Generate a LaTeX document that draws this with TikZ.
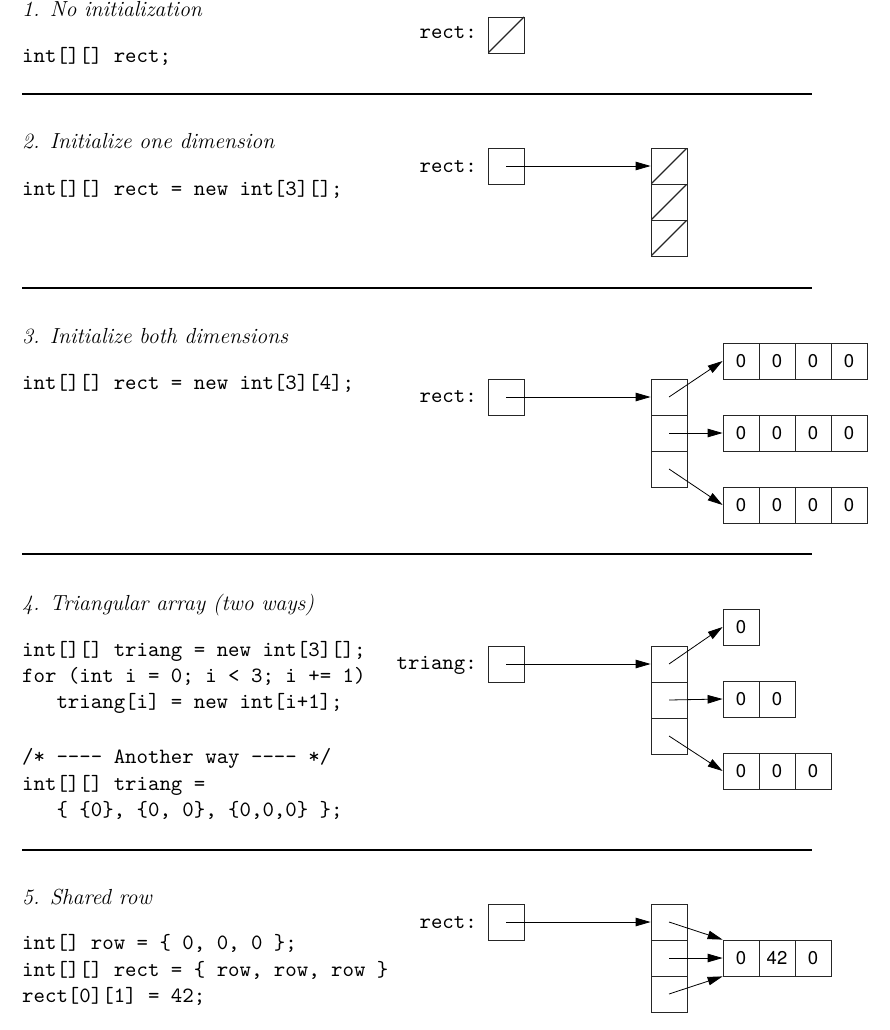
\documentclass[tikz,border=0pt]{standalone}
\usepackage{fontspec}
\setmonofont{lmmono10-regular.otf}
\newfontfamily\numfont{TeX Gyre Heros}
\usetikzlibrary{arrows.meta}
\begin{document}
\begin{tikzpicture}[x=1pt,y=-1pt,
  every node/.style={inner sep=0pt},
  code/.style={anchor=base west, font=\fontsize{21.8}{26}\selectfont\ttfamily},
  head/.style={anchor=base west, font=\fontsize{21.8}{26}\selectfont\itshape},
  lbl/.style={anchor=base east, font=\fontsize{21.8}{26}\selectfont\ttfamily},
  cell/.style={draw=black!85, line width=0.8pt, minimum size=36pt, font=\fontsize{18.5}{20}\selectfont\numfont},
  nullcell/.style={cell, path picture={\draw[black!85, line width=1.3pt] (path picture bounding box.south west) -- (path picture bounding box.north east);}},
  ptr/.style={-{Triangle[length=15pt,width=8.5pt]}, line width=0.8pt},
  rule/.style={line width=2pt}
]
\useasboundingbox (0,0) rectangle (890,1030);

% ---------- 1 ----------
\node[head] (h1) at (22,17) {1. No initialization};
\node[code] (c1) at (22,63) {int[][] rect;};
\node[lbl] (l1) at (477,39) {rect:};
\node[nullcell] (b1) at (506,35) {};
\draw[rule] (22,94) -- (812,94);

% ---------- 2 ----------
\node[head] (h2) at (22,148) {2. Initialize one dimension};
\node[code] (c2) at (22,195) {int[][] rect = new int[3][];};
\node[lbl] (l2) at (477,172) {rect:};
\node[cell] (b2) at (506,166) {};
\node[nullcell] (a2a) at (669,166) {};
\node[nullcell] (a2b) at (669,202) {};
\node[nullcell] (a2c) at (669,238) {};
\draw[ptr] (b2.center) -- (a2a.west);
\draw[rule] (22,288) -- (812,288);

% ---------- 3 ----------
\node[head] (h3) at (22,343) {3. Initialize both dimensions};
\node[code] (c3) at (22,389) {int[][] rect = new int[3][4];};
\node[lbl] (l3) at (477,402) {rect:};
\node[cell] (b3) at (506,397) {};
\node[cell] (a3a) at (669,397) {};
\node[cell] (a3b) at (669,433) {};
\node[cell] (a3c) at (669,469) {};
\foreach \r/\y in {a/361,b/433,c/505}{
  \node[cell] (r3\r1) at (741,\y) {0};
  \node[cell] (r3\r2) at (777,\y) {0};
  \node[cell] (r3\r3) at (813,\y) {0};
  \node[cell] (r3\r4) at (849,\y) {0};
}
\draw[ptr] (b3.center) -- (a3a.west);
\draw[ptr] (a3a.center) -- (r3a1.west);
\draw[ptr] (a3b.center) -- (r3b1.west);
\draw[ptr] (a3c.center) -- (r3c1.west);
\draw[rule] (22,554) -- (812,554);

% ---------- 4 ----------
\node[head] (h4) at (22,610) {4. Triangular array (two ways)};
\node[code] (c4a) at (22,656) {int[][] triang = new int[3][];};
\node[code] (c4b) at (22,682) {for (int i = 0; i < 3; i += 1)};
\node[code] (c4c) at (22,708) {\ \ \ triang[i] = new int[i+1];};
\node[code] (c4d) at (22,763) {/* ---- Another way ---- */};
\node[code] (c4e) at (22,790) {int[][] triang =};
\node[code] (c4f) at (22,816) {\ \ \ \{ \{0\}, \{0, 0\}, \{0,0,0\} \};};
\node[lbl] (l4) at (477,669) {triang:};
\node[cell] (b4) at (506,664) {};
\node[cell] (a4a) at (669,664) {};
\node[cell] (a4b) at (669,700) {};
\node[cell] (a4c) at (669,736) {};
\node[cell] (r4a1) at (741,627) {0};
\node[cell] (r4b1) at (741,699) {0};
\node[cell] (r4b2) at (777,699) {0};
\node[cell] (r4c1) at (741,771) {0};
\node[cell] (r4c2) at (777,771) {0};
\node[cell] (r4c3) at (813,771) {0};
\draw[ptr] (b4.center) -- (a4a.west);
\draw[ptr] (a4a.center) -- (r4a1.west);
\draw[ptr] (a4b.center) -- (r4b1.west);
\draw[ptr] (a4c.center) -- (r4c1.west);
\draw[rule] (22,850) -- (812,850);

% ---------- 5 ----------
\node[head] (h5) at (22,904) {5. Shared row};
\node[code] (c5a) at (22,949) {int[] row = \{ 0, 0, 0 \};};
\node[code] (c5b) at (22,976) {int[][] rect = \{ row, row, row \}};
\node[code] (c5c) at (22,1002) {rect[0][1] = 42;};
\node[lbl] (l5) at (477,928) {rect:};
\node[cell] (b5) at (506,922) {};
\node[cell] (a5a) at (669,922) {};
\node[cell] (a5b) at (669,958) {};
\node[cell] (a5c) at (669,994) {};
\node[cell] (r51) at (741,958) {0};
\node[cell] (r52) at (777,958) {42};
\node[cell] (r53) at (813,958) {0};
\draw[ptr] (b5.center) -- (a5a.west);
\draw[ptr] (a5a.center) -- (r51.north west);
\draw[ptr] (a5b.center) -- (r51.west);
\draw[ptr] (a5c.center) -- (r51.south west);
\end{tikzpicture}
\end{document}
